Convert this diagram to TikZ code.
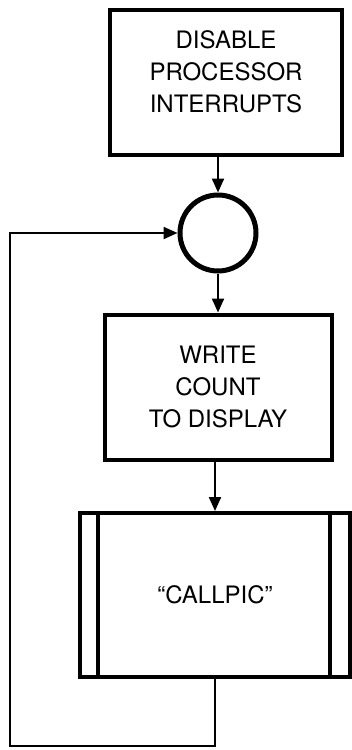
\documentclass[tikz,border=0pt]{standalone}
\usepackage{fontspec}
\setmainfont{TeX Gyre Heros}
\usetikzlibrary{arrows.meta,positioning}

\begin{document}
\begin{tikzpicture}[
  >={Triangle[length=14pt,width=12pt]},
  x=1pt,y=-1pt,
  font=\fontsize{24}{32}\selectfont,
  proc/.style={draw=black, line width=4pt, fill=white, align=center,
               inner sep=0pt},
  junction/.style={circle, draw=black, line width=5pt, inner sep=0pt,
                   minimum size=76pt},
  conn/.style={->, line width=2.2pt},
]
\useasboundingbox (0,0) rectangle (352,750);

% ---------------- boxes ----------------
\node[proc, minimum width=232pt, minimum height=145pt] (dis) at (226,82)
  {DISABLE\\PROCESSOR\\INTERRUPTS\\[-12pt]};

\node[junction] (junc) at (218,233) {};

\node[proc, minimum width=227pt, minimum height=145pt] (wr) at (218,387)
  {WRITE\\COUNT\\TO DISPLAY};

% predefined process box
\node[proc, minimum width=270pt, minimum height=164pt] (call) at (215,595)
  {``CALLPIC''};
\draw[line width=3.5pt] ([xshift=20pt]call.north west) -- ([xshift=20pt]call.south west);
\draw[line width=3.5pt] ([xshift=-22pt]call.north east) -- ([xshift=-22pt]call.south east);

% ---------------- connectors ----------------
\coordinate (loop) at (10,746);

\draw[conn] (junc |- dis.south) -- (junc.north);
\draw[conn] (junc.south) -- (junc |- wr.north);
\draw[conn] (call |- wr.south) -- (call.north);
\draw[conn] (call.south) |- (loop) |- (junc.west);

\end{tikzpicture}
\end{document}
